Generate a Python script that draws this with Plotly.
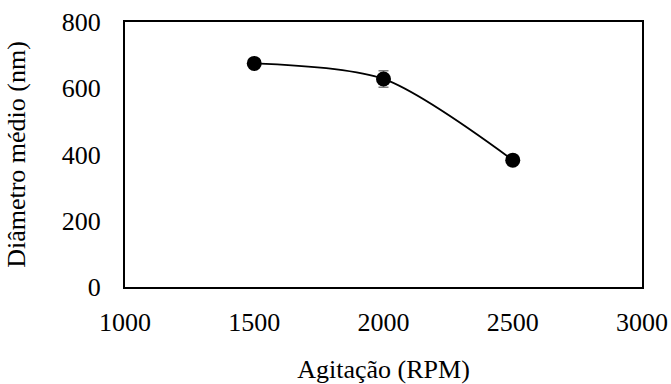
import plotly.graph_objects as go

# Stirring speed vs. mean particle diameter
agitacao = [1500, 2000, 2500]
diametro = [675, 628, 383]
erro = [0, 25, 0]

x_ticks = [1000, 1500, 2000, 2500, 3000]
y_ticks = [0, 200, 400, 600, 800]

serif = "Liberation Serif"
font = dict(family=serif, size=26, color="black")

fig = go.Figure()
fig.add_trace(go.Scatter(
    x=agitacao, y=diametro,
    mode="lines+markers",
    line=dict(color="black", width=1.8, shape="spline", smoothing=0.8),
    marker=dict(color="black", size=15),
    error_y=dict(type="data", array=erro, visible=True, color="#808080",
                 thickness=1.5, width=5),
    showlegend=False,
))

fig.update_layout(
    width=671, height=384,
    margin=dict(l=125, r=29, t=22, b=97),
    paper_bgcolor="white", plot_bgcolor="white",
    font=font,
    xaxis=dict(range=[1000, 3000], tickvals=x_ticks, automargin=False,
               tickfont=font, ticklabeloverflow="allow",
               showgrid=False, zeroline=False, showline=True, mirror=True,
               linecolor="black", linewidth=2, ticks="",
               ticklabelstandoff=11,
               title=dict(text="Agitação (RPM)", font=font, standoff=26)),
    yaxis=dict(range=[0, 800], tickvals=y_ticks, automargin=False,
               tickfont=font,
               showgrid=False, zeroline=False, showline=True, mirror=True,
               linecolor="black", linewidth=2, ticks="",
               ticklabelstandoff=17,
               title=dict(text="Diâmetro médio (nm)", font=font, standoff=29)),
)

fig.write_html("out.html")
